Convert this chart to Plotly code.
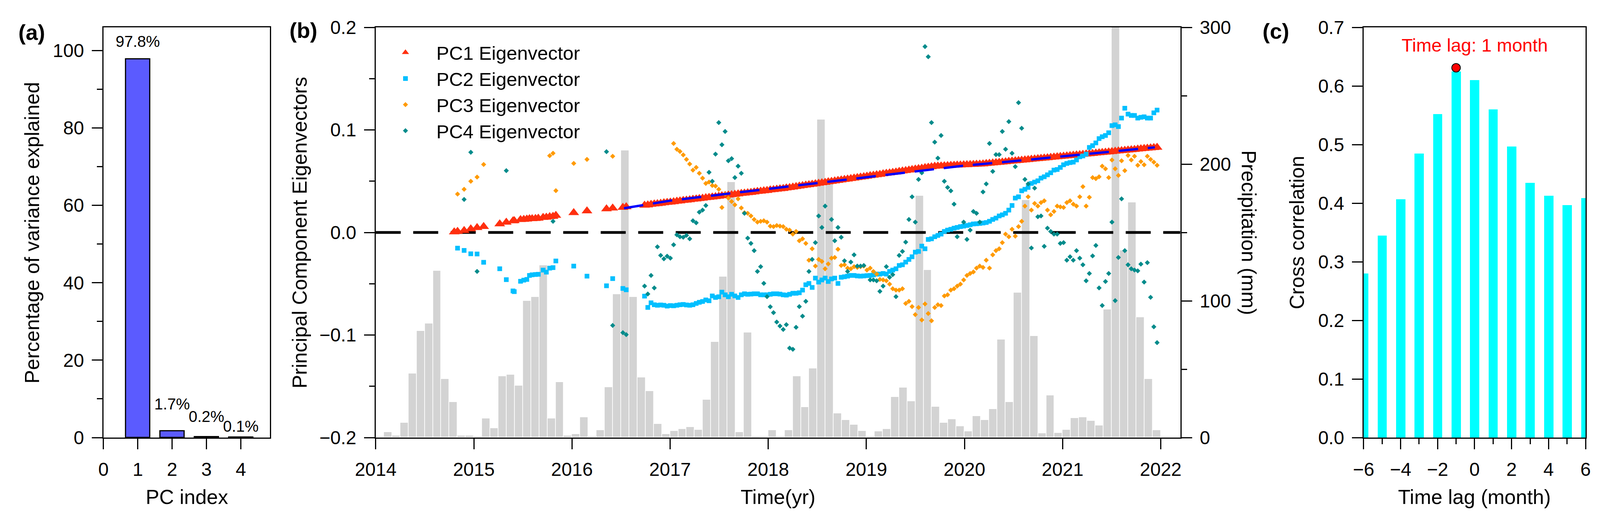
import plotly.graph_objects as go

# ---------------- data ----------------
# (a) variance explained by each principal component
PC_INDEX = [1, 2, 3, 4]
VAR_EXPLAINED = [97.8, 1.7, 0.2, 0.1]

# (b) monthly precipitation, Jan 2014 .. Dec 2021 (mm)
PRECIP_START_YEAR = 2014
PRECIP_MM = [
    0.0, 3.9, 1.4, 10.9, 47.0, 78.0, 83.5, 122.0, 43.0, 26.0, 1.4, 1.4,
    1.0, 14.0, 7.0, 45.0, 46.0, 38.0, 100.0, 103.0, 126.0, 14.0, 40.5, 1.4,
    2.5, 15.0, 0.0, 5.3, 37.0, 105.0, 210.0, 103.0, 44.0, 34.0, 10.0, 2.5,
    5.0, 6.4, 7.8, 5.8, 27.7, 70.0, 117.6, 187.0, 3.9, 77.0, 0.5, 0.0,
    5.3, 0.0, 5.3, 45.0, 22.4, 50.5, 232.6, 185.8, 17.7, 12.9, 9.4, 4.9,
    0.0, 4.5, 6.2, 29.6, 36.5, 26.7, 176.8, 122.6, 22.6, 10.9, 13.3, 8.4,
    4.5, 15.6, 13.0, 21.0, 71.6, 26.0, 105.9, 173.7, 74.3, 3.1, 30.8, 3.5,
    5.8, 14.4, 14.8, 12.3, 8.8, 93.6, 300.0, 137.0, 172.0, 88.0, 43.0, 5.3,
]

# acquisition dates (decimal year): sparse early scenes, then 12-day stack
EARLY_DATES = [
    2014.800, 2014.834, 2014.901, 2014.969, 2015.033, 2015.100, 2015.264,
    2015.331, 2015.399, 2015.412, 2015.476, 2015.509, 2015.540, 2015.567,
    2015.594, 2015.628, 2015.657, 2015.706, 2015.739, 2015.773, 2015.807,
    2015.836, 2016.018, 2016.153, 2016.352, 2016.415, 2016.519, 2016.553,
]
DENSE_DATES = [
    2016.740, 2016.773, 2016.806, 2016.839, 2016.871, 2016.904, 2016.937, 2016.970,
    2017.003, 2017.036, 2017.069, 2017.101, 2017.134, 2017.167, 2017.200, 2017.233,
    2017.266, 2017.298, 2017.331, 2017.364, 2017.397, 2017.430, 2017.463, 2017.496,
    2017.528, 2017.561, 2017.594, 2017.627, 2017.660, 2017.693, 2017.726, 2017.758,
    2017.791, 2017.824, 2017.857, 2017.890, 2017.923, 2017.955, 2017.988, 2018.021,
    2018.054, 2018.087, 2018.120, 2018.153, 2018.185, 2018.218, 2018.251, 2018.284,
    2018.317, 2018.350, 2018.383, 2018.415, 2018.448, 2018.481, 2018.514, 2018.547,
    2018.580, 2018.612, 2018.645, 2018.678, 2018.711, 2018.744, 2018.777, 2018.809,
    2018.842, 2018.875, 2018.908, 2018.941, 2018.974, 2019.006, 2019.039, 2019.072,
    2019.105, 2019.138, 2019.171, 2019.204, 2019.237, 2019.269, 2019.302, 2019.335,
    2019.368, 2019.401, 2019.434, 2019.466, 2019.499, 2019.532, 2019.565, 2019.598,
    2019.631, 2019.664, 2019.697, 2019.729, 2019.762, 2019.795, 2019.828, 2019.861,
    2019.894, 2019.926, 2019.959, 2019.992, 2020.025, 2020.058, 2020.091, 2020.123,
    2020.156, 2020.189, 2020.222, 2020.255, 2020.288, 2020.321, 2020.354, 2020.386,
    2020.419, 2020.452, 2020.485, 2020.518, 2020.551, 2020.583, 2020.616, 2020.649,
    2020.682, 2020.715, 2020.748, 2020.780, 2020.813, 2020.846, 2020.879, 2020.912,
    2020.945, 2020.977, 2021.010, 2021.043, 2021.076, 2021.109, 2021.142, 2021.175,
    2021.207, 2021.240, 2021.273, 2021.306, 2021.339, 2021.372, 2021.404, 2021.437,
    2021.470, 2021.503, 2021.536, 2021.569, 2021.601, 2021.634, 2021.667, 2021.700,
    2021.733, 2021.766, 2021.798, 2021.831, 2021.864, 2021.897, 2021.930, 2021.963,
]

PC1_EARLY = [
    0.0005, 0.0010, 0.0018, 0.0034, 0.0047, 0.0057, 0.0083, 0.0099, 0.0112, 0.0114,
    0.0125, 0.0127, 0.0130, 0.0133, 0.0133, 0.0135, 0.0138, 0.0146, 0.0148, 0.0153,
    0.0156, 0.0166, 0.0192, 0.0210, 0.0230, 0.0237, 0.0244, 0.0250,
]
PC1_DENSE = [
    0.0265, 0.0268, 0.0273, 0.0277, 0.0280, 0.0284, 0.0289, 0.0292, 0.0295, 0.0299,
    0.0304, 0.0307, 0.0311, 0.0314, 0.0318, 0.0323, 0.0326, 0.0330, 0.0333, 0.0338,
    0.0341, 0.0345, 0.0349, 0.0352, 0.0357, 0.0360, 0.0364, 0.0368, 0.0371, 0.0375,
    0.0380, 0.0383, 0.0387, 0.0390, 0.0394, 0.0399, 0.0402, 0.0406, 0.0409, 0.0414,
    0.0417, 0.0421, 0.0425, 0.0428, 0.0433, 0.0437, 0.0442, 0.0447, 0.0451, 0.0456,
    0.0461, 0.0465, 0.0470, 0.0474, 0.0479, 0.0484, 0.0488, 0.0493, 0.0497, 0.0502,
    0.0507, 0.0511, 0.0516, 0.0520, 0.0525, 0.0530, 0.0534, 0.0539, 0.0543, 0.0548,
    0.0553, 0.0557, 0.0562, 0.0566, 0.0571, 0.0576, 0.0580, 0.0585, 0.0589, 0.0594,
    0.0599, 0.0603, 0.0608, 0.0612, 0.0617, 0.0622, 0.0626, 0.0631, 0.0635, 0.0640,
    0.0645, 0.0647, 0.0648, 0.0650, 0.0651, 0.0653, 0.0654, 0.0656, 0.0657, 0.0659,
    0.0660, 0.0662, 0.0663, 0.0665, 0.0666, 0.0668, 0.0671, 0.0674, 0.0677, 0.0680,
    0.0683, 0.0686, 0.0689, 0.0692, 0.0695, 0.0698, 0.0701, 0.0704, 0.0707, 0.0710,
    0.0713, 0.0716, 0.0719, 0.0722, 0.0725, 0.0728, 0.0731, 0.0734, 0.0737, 0.0740,
    0.0743, 0.0746, 0.0749, 0.0752, 0.0755, 0.0758, 0.0761, 0.0764, 0.0767, 0.0770,
    0.0773, 0.0776, 0.0779, 0.0782, 0.0785, 0.0788, 0.0791, 0.0794, 0.0797, 0.0800,
    0.0803, 0.0806, 0.0809, 0.0812, 0.0815, 0.0818, 0.0821, 0.0824, 0.0827, 0.0830,
]

PC2_EARLY = [
    None, -0.0153, -0.0175, -0.0208, -0.0210, -0.0291, -0.0354, -0.0460, -0.0570, -0.0577,
    -0.0476, -0.0465, -0.0458, -0.0419, -0.0413, -0.0410, -0.0408, -0.0367, -0.0387, -0.0348,
    -0.0343, -0.0278, -0.0328, -0.0426, -0.0520, -0.0450, -0.0546, -0.0559,
]
PC2_DENSE = [
    -0.0621, -0.0731, -0.0686, -0.0705, -0.0710, -0.0707, -0.0710, -0.0718, -0.0713, -0.0715,
    -0.0710, -0.0705, -0.0702, -0.0707, -0.0710, -0.0705, -0.0692, -0.0681, -0.0673, -0.0658,
    -0.0666, -0.0619, -0.0634, -0.0627, -0.0582, -0.0608, -0.0627, -0.0603, -0.0619, -0.0634,
    -0.0608, -0.0598, -0.0603, -0.0601, -0.0598, -0.0598, -0.0608, -0.0608, -0.0608, -0.0603,
    -0.0598, -0.0598, -0.0601, -0.0608, -0.0611, -0.0603, -0.0593, -0.0593, -0.0588, -0.0562,
    -0.0510, -0.0497, -0.0536, -0.0445, -0.0484, -0.0463, -0.0445, -0.0478, -0.0453, -0.0445,
    -0.0497, -0.0437, -0.0432, -0.0426, -0.0419, -0.0419, -0.0424, -0.0426, -0.0424, -0.0421,
    -0.0419, -0.0414, -0.0406, -0.0406, -0.0400, -0.0406, -0.0380, -0.0367, -0.0354, -0.0322,
    -0.0315, -0.0289, -0.0263, -0.0237, -0.0192, -0.0185, -0.0133, -0.0159, -0.0068, -0.0062,
    -0.0042, -0.0029, -0.0016, 0.0010, 0.0023, 0.0031, 0.0042, 0.0049, 0.0057, 0.0062,
    0.0068, 0.0075, 0.0083, 0.0085, 0.0088, 0.0092, 0.0097, 0.0109, 0.0127, 0.0140,
    0.0161, 0.0172, 0.0187, 0.0218, 0.0263, 0.0335, 0.0348, 0.0406, 0.0421, 0.0439,
    0.0478, 0.0491, 0.0504, 0.0530, 0.0543, 0.0562, 0.0582, 0.0608, 0.0614, 0.0634,
    0.0660, 0.0673, 0.0681, 0.0686, 0.0707, 0.0738, 0.0746, 0.0764, 0.0829, 0.0847,
    0.0873, 0.0915, 0.0933, 0.0946, 0.0972, 0.1042, 0.1050, 0.1032, 0.1115, 0.1211,
    0.1154, 0.1141, 0.1141, 0.1115, 0.1123, 0.1128, 0.1115, 0.1115, 0.1167, 0.1193,
]

PC3_EARLY = [
    None, 0.0374, 0.0421, 0.0499, 0.0540, 0.0663, None, None, None, None,
    None, None, None, None, None, None, None, None, None, 0.0749,
    0.0772, 0.0408, 0.0673, 0.0712, None, 0.0743, None, None,
]
PC3_DENSE = [
    None, None, None, None, None, None, None, None, None, 0.0868,
    0.0811, 0.0790, 0.0756, 0.0712, 0.0668, 0.0608, 0.0634, 0.0577, 0.0530, 0.0478,
    0.0491, 0.0458, 0.0452, 0.0421, 0.0244, 0.0374, 0.0335, 0.0302, 0.0270, 0.0328,
    0.0239, 0.0192, 0.0187, 0.0161, 0.0127, 0.0101, 0.0109, 0.0114, 0.0101, 0.0062,
    0.0057, 0.0068, 0.0062, 0.0057, 0.0031, 0.0023, -0.0016, 0.0010, -0.0081, -0.0062,
    -0.0107, -0.0270, -0.0159, -0.0328, -0.0263, -0.0283, -0.0354, -0.0307, -0.0250, -0.0244,
    -0.0164, -0.0322, -0.0315, -0.0348, -0.0354, -0.0333, -0.0341, -0.0333, -0.0328, -0.0367,
    -0.0348, -0.0380, -0.0406, -0.0458, -0.0463, -0.0471, -0.0504, -0.0549, -0.0562, -0.0562,
    -0.0549, -0.0692, -0.0671, -0.0723, -0.0801, -0.0731, -0.0853, -0.0697, -0.0790, -0.0861,
    -0.0731, -0.0705, -0.0712, -0.0619, -0.0608, -0.0562, -0.0549, -0.0523, -0.0504, -0.0463,
    -0.0419, -0.0400, -0.0385, -0.0348, -0.0328, -0.0341, -0.0270, -0.0348, -0.0218, -0.0177,
    -0.0159, -0.0099, -0.0016, -0.0042, 0.0031, -0.0036, 0.0057, 0.0109, 0.0257, 0.0348,
    0.0218, 0.0283, 0.0257, 0.0291, 0.0309, 0.0218, 0.0172, 0.0205, 0.0257, 0.0250,
    0.0244, 0.0291, 0.0309, 0.0276, 0.0257, 0.0348, 0.0447, 0.0257, 0.0343, 0.0535,
    0.0525, 0.0543, 0.0647, 0.0621, 0.0535, 0.0707, 0.0621, 0.0556, 0.0699, 0.0603,
    0.0751, 0.0707, 0.0743, 0.0655, 0.0691, 0.0660, 0.0743, 0.0712, 0.0686, 0.0655,
]

PC4_EARLY = [
    None, None, 0.0322, 0.0782, -0.0380, None, None, 0.0603, None, None,
    None, None, None, None, None, None, None, None, None, None,
    0.0109, None, None, None, 0.0788, -0.0907, -0.0977, -0.0996,
]
PC4_DENSE = [
    -0.0523, -0.0600, -0.0419, -0.0541, -0.0140, -0.0224, -0.0257, -0.0231, -0.0250, -0.0120,
    -0.0023, -0.0042, -0.0047, -0.0029, -0.0062, 0.0114, 0.0094, 0.0198, 0.0218, 0.0263,
    0.0587, 0.0499, 0.0764, 0.1071, 0.0855, 0.0985, 0.0699, 0.0720, 0.0535, 0.0647,
    0.0577, 0.0187, -0.0055, -0.0107, -0.0177, -0.0380, -0.0333, -0.0496, -0.0626, -0.0725,
    -0.0782, -0.0873, -0.0912, -0.0946, -0.0899, -0.1128, -0.1139, -0.0925, -0.0723, -0.0816,
    -0.0671, -0.0380, -0.0263, -0.0099, 0.0161, 0.0049, 0.0257, None, 0.0127, -0.0081,
    0.0049, -0.0047, -0.0276, -0.0380, -0.0289, -0.0218, -0.0328, -0.0328, -0.0322, None,
    -0.0463, -0.0463, -0.0471, -0.0574, -0.0523, -0.0333, -0.0437, -0.0411, -0.0626, -0.0224,
    -0.0185, -0.0094, 0.0127, 0.0348, 0.0101, 0.0517, 0.0582, 0.1812, 0.1713, 0.1071,
    0.0881, 0.0725, 0.0946, 0.0499, 0.0439, 0.0406, 0.0276, -0.0042, None, 0.0101,
    -0.0068, 0.0023, 0.0205, 0.0187, 0.0101, 0.0395, 0.0473, 0.0868, 0.0595, 0.0759,
    0.0759, 0.0985, 0.0811, 0.1081, 0.0772, 0.0642, 0.1266, 0.1016, 0.0517, 0.0473,
    -0.0151, 0.0432, 0.0153, 0.0161, -0.0135, 0.0042, 0.0010, -0.0016, -0.0016, -0.0107,
    -0.0099, -0.0270, -0.0237, -0.0270, -0.0177, -0.0250, -0.0315, -0.0471, -0.0400, -0.0229,
    -0.0127, -0.0541, -0.0712, -0.0478, -0.0400, 0.0101, -0.0665, -0.0244, 0.0328, -0.0177,
    -0.0315, -0.0354, -0.0367, -0.0374, -0.0309, -0.0484, -0.0294, -0.0632, -0.0920, -0.1074,
]

# trend fitted to PC1
FIT_X = [2016.53, 2017.0, 2017.5, 2018.0, 2018.5, 2019.0, 2019.5, 2020.0, 2020.5, 2021.0, 2021.5, 2021.94]
FIT_Y = [0.0236, 0.0310, 0.0368, 0.0425, 0.0482, 0.0540, 0.0598, 0.0652, 0.0695, 0.0740, 0.0787, 0.0830]

# (c) cross correlation PC1 vs precipitation
LAGS = [-6, -5, -4, -3, -2, -1, 0, 1, 2, 3, 4, 5, 6]
CROSS_CORR = [0.280, 0.345, 0.407, 0.485, 0.552, 0.625, 0.610, 0.560, 0.497, 0.435, 0.413, 0.397, 0.409]
PEAK_LAG = -1
PEAK_CORR = 0.631

# ---------------- styling ----------------
FONT = "Liberation Sans, Arial, sans-serif"
W, H = 4331, 1331   # reference frame used to place things (fractions of the page)
Y_DOM = [211 / H, 1261 / H]
DOM_A = [280 / W, 731 / W]
DOM_B = [1017 / W, 3195 / W]
DOM_C = [3691 / W, 4292 / W]
TICKFONT = dict(family=FONT, size=48, color="black")
XB_RANGE = [2014, 2022.2]

base_axis = dict(
    showline=True, linewidth=3, linecolor="black",
    ticks="outside", ticklen=27, tickwidth=3, tickcolor="black",
    tickfont=TICKFONT, showgrid=False, zeroline=False, ticklabelstandoff=10,
)
minor_style = dict(ticks="outside", ticklen=14, tickwidth=3, tickcolor="black", showgrid=False)

dates = EARLY_DATES + DENSE_DATES
month_centers = [PRECIP_START_YEAR + i / 12 + 1 / 24 for i in range(len(PRECIP_MM))]

fig = go.Figure()

# (a)
fig.add_trace(go.Bar(
    x=PC_INDEX, y=VAR_EXPLAINED, width=0.7, xaxis="x", yaxis="y",
    marker=dict(color="#5B5BFF", line=dict(color="black", width=3)),
    showlegend=False,
))

# (b) precipitation bars (base axis y2, right side)
fig.add_trace(go.Bar(
    x=month_centers, y=PRECIP_MM, width=1 / 12, xaxis="x2", yaxis="y2",
    marker=dict(color="#D3D3D3", line=dict(color="white", width=1.5)),
    showlegend=False,
))
# zero reference line
fig.add_trace(go.Scatter(
    x=XB_RANGE, y=[0, 0], mode="lines", xaxis="x2", yaxis="y3",
    line=dict(color="black", width=7, dash="64px,32px"), showlegend=False,
))
series = [
    ("PC1 Eigenvector", PC1_EARLY + PC1_DENSE, "triangle-up", 24, "#FF2F0F"),
    ("PC2 Eigenvector", PC2_EARLY + PC2_DENSE, "square", 12, "#00BFFF"),
    ("PC3 Eigenvector", PC3_EARLY + PC3_DENSE, "diamond", 10, "#FF9A00"),
    ("PC4 Eigenvector", PC4_EARLY + PC4_DENSE, "diamond", 10, "#008B8B"),
]
for name, vals, sym, size, col in series:
    fig.add_trace(go.Scatter(
        x=dates, y=vals, mode="markers", name=name, legendgroup=name,
        xaxis="x2", yaxis="y3",
        marker=dict(symbol=sym, size=size, color=col, line=dict(width=0)),
    ))
fig.add_trace(go.Scatter(
    x=FIT_X, y=FIT_Y, mode="lines", xaxis="x2", yaxis="y3",
    line=dict(color="#0000FF", width=6, dash="50px,25px"), showlegend=False,
))

# (c)
fig.add_trace(go.Bar(
    x=LAGS, y=CROSS_CORR, width=0.5, xaxis="x3", yaxis="y4",
    marker=dict(color="#00FFFF", line=dict(width=0)), showlegend=False,
))
fig.add_trace(go.Scatter(
    x=[PEAK_LAG], y=[PEAK_CORR], mode="markers", xaxis="x3", yaxis="y4",
    marker=dict(symbol="circle", size=22, color="red", line=dict(color="black", width=2)),
    showlegend=False,
))

annotations = []
# bar labels in (a)
label_y = [102.4, 8.7, 5.5, 2.9]
for xi, v, ly in zip(PC_INDEX, VAR_EXPLAINED, label_y):
    annotations.append(dict(
        x=xi, y=ly, xref="x", yref="y", text=f"{v}%", showarrow=False,
        font=dict(family=FONT, size=40, color="black"),
    ))
annotations.append(dict(
    x=0, y=0.67, xref="x3", yref="y4", text="Time lag: 1 month", showarrow=False,
    font=dict(family=FONT, size=47, color="red"),
))
title_font = dict(family=FONT, size=52, color="black")
for txt, x, y, ang in [
    ("PC index", (DOM_A[0] + DOM_A[1]) / 2, 59 / H, 0),
    ("Time(yr)", (DOM_B[0] + DOM_B[1]) / 2, 59 / H, 0),
    ("Time lag (month)", (DOM_C[0] + DOM_C[1]) / 2, 59 / H, 0),
    ("Percentage of variance explained", 87 / W, 0.5527, -90),
    ("Principal Component Eigenvectors", 811 / W, 0.5527, -90),
    ("Cross correlation", 3511 / W, 0.5527, -90),
    ("Precipitation (mm)", 3380 / W, 0.5527, 90),
]:
    annotations.append(dict(
        x=x, y=y, xref="paper", yref="paper", text=txt, showarrow=False,
        textangle=ang, xanchor="center", yanchor="middle", font=title_font,
    ))
for txt, x, y in [("(a)", 86, 83), ("(b)", 822, 78), ("(c)", 3453, 79)]:
    annotations.append(dict(
        x=x / W, y=1 - y / H, xref="paper", yref="paper", text=f"<b>{txt}</b>",
        showarrow=False, xanchor="center", yanchor="middle",
        font=dict(family=FONT, size=56, color="black"),
    ))

fig.update_layout(
    autosize=True, margin=dict(l=0, r=0, t=0, b=0, pad=0),
    template="none", paper_bgcolor="white", plot_bgcolor="rgba(0,0,0,0)",
    font=dict(family=FONT, color="black"),
    barmode="overlay", bargap=0,
    xaxis=dict(base_axis, domain=DOM_A, anchor="y", range=[0, 4.85], tick0=0, dtick=1, mirror=True),
    yaxis=dict(base_axis, domain=Y_DOM, anchor="x", range=[0, 106], tick0=0, dtick=20, mirror=True,
               minor=dict(minor_style, dtick=10, tick0=0)),
    xaxis2=dict(base_axis, domain=DOM_B, anchor="y2", range=XB_RANGE, tick0=2014, dtick=1,
                tickformat="d", mirror=True),
    yaxis2=dict(base_axis, domain=Y_DOM, anchor="x2", side="right", range=[0, 300], tick0=0,
                dtick=100, minor=dict(minor_style, dtick=50, tick0=0)),
    yaxis3=dict(base_axis, anchor="x2", overlaying="y2", side="left", range=[-0.2, 0.2],
                tick0=-0.2, dtick=0.1, tickformat=".1f", minor=dict(minor_style, dtick=0.05, tick0=-0.2)),
    xaxis3=dict(base_axis, domain=DOM_C, anchor="y4", range=[-6, 6], tick0=-6, dtick=2, mirror=True,
                minor=dict(minor_style, dtick=1, tick0=-6)),
    yaxis4=dict(base_axis, domain=Y_DOM, anchor="x3", range=[0, 0.7], tick0=0, dtick=0.1,
                tickformat=".1f", mirror=True),
    legend=dict(
        x=1014 / W, y=1 - 96 / H, xanchor="left", yanchor="top",
        bgcolor="rgba(0,0,0,0)", borderwidth=0, itemwidth=148,
        font=dict(family=FONT, size=49, color="black"), tracegroupgap=17,
        traceorder="normal",
    ),
    annotations=annotations,
)

# fill the browser window exactly, whatever its CSS size
fig.write_html(
    "out.html",
    config={"displayModeBar": False},
    default_width="100vw; position:fixed; left:0; top:0",
    default_height="100vh",
)
